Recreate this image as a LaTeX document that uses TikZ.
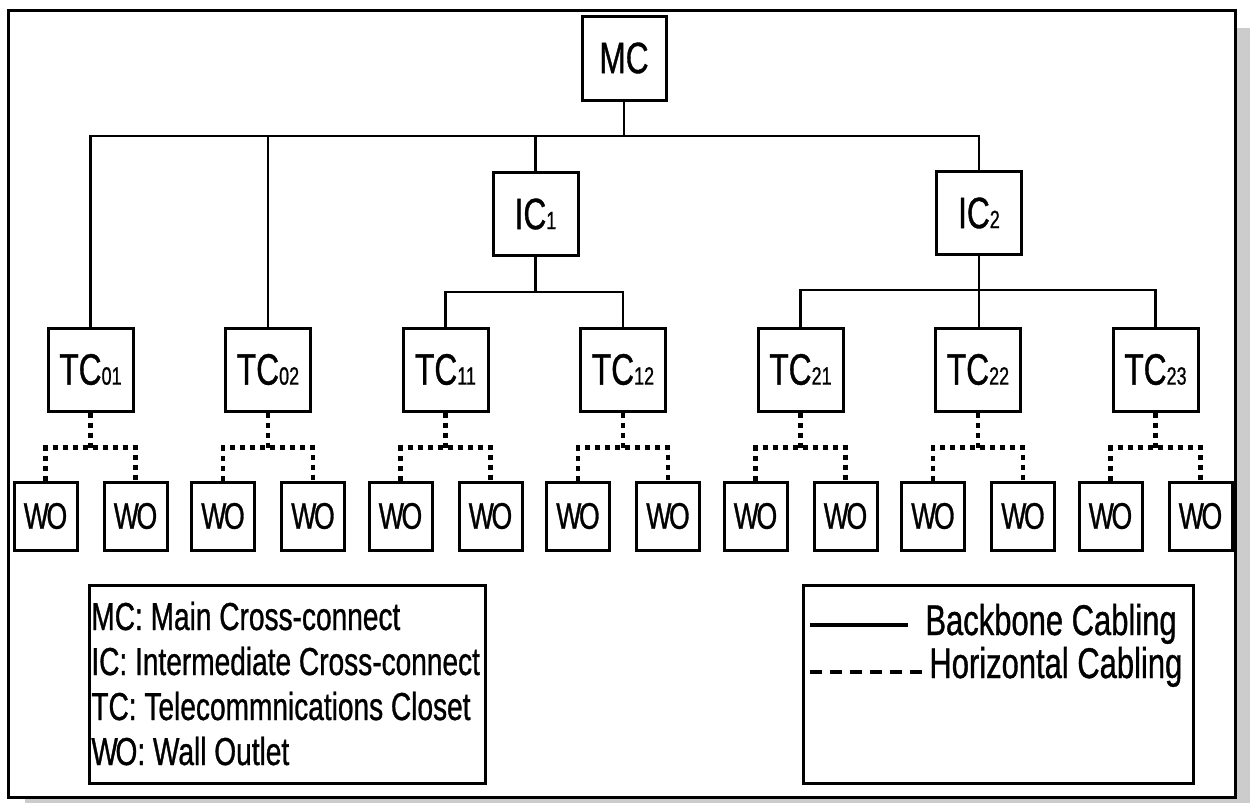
\documentclass[tikz,border=0pt]{standalone}
\usepackage{fontspec}
\setmainfont{Liberation Sans}[FakeStretch=0.72,FakeBold=0.8]
\usetikzlibrary{positioning}
\newcommand{\boxfont}{\fontsize{22}{26}\selectfont}
\newcommand{\wofont}{\fontsize{18.5}{22}\selectfont}
\newcommand{\keyfont}{\fontsize{19.5}{23}\selectfont}
\newcommand{\cablefont}{\fontsize{21.5}{26}\selectfont}
\newcommand{\digits}[1]{{\fontsize{12.5}{14}\selectfont #1}}
\newcommand{\wo}{W\kern-1.2pt O}
\tikzset{
  unitbox/.style={draw,line width=1.5pt,minimum width=42.5pt,minimum height=41.5pt,
    inner sep=0pt,font=\boxfont},
  outlet/.style={draw,line width=1.5pt,minimum width=31.5pt,minimum height=34pt,
    inner sep=0pt,font=\wofont},
  backbone/.style={line width=1.3pt},
  horiz/.style={line width=2.2pt,dash pattern=on 2.5pt off 2.5pt},
  horizkey/.style={line width=2pt,dash pattern=on 6pt off 4pt},
  keybox/.style={draw,line width=1.5pt,minimum width=198pt,minimum height=99pt},
  keytext/.style={anchor=base west,inner sep=0pt,font=\keyfont},
  cabletext/.style={anchor=base west,inner sep=0pt,font=\cablefont}
}

\begin{document}
\begin{tikzpicture}[x=0.5pt,y=-0.5pt,node distance=44.75pt]
  \useasboundingbox (0,0) rectangle (1250,803);
  % shadow and outer frame
  \fill[gray!40] (1237,28) rectangle (1250,803);
  \fill[gray!40] (25,799) rectangle (1250,803);
  \draw[line width=1.5pt] (8,10) rectangle (1235,797);

  \node[unitbox,minimum width=42pt,minimum height=42pt] (MC) at (624,58) {MC};
  \node[unitbox] (IC1) at (535.5,214) {IC\digits{1}};
  \node[unitbox] (IC2) at (979,213) {IC\digits{2}};

  \node[unitbox] (TC01) at (90.5,369.5) {TC\digits{01}};
  \node[unitbox,right=of TC01] (TC02) {TC\digits{02}};
  \node[unitbox,right=of TC02] (TC11) {TC\digits{11}};
  \node[unitbox,right=of TC11] (TC12) {TC\digits{12}};
  \node[unitbox,right=of TC12] (TC21) {TC\digits{21}};
  \node[unitbox,right=of TC21] (TC22) {TC\digits{22}};
  \node[unitbox,right=of TC22] (TC23) {TC\digits{23}};

  % backbone
  \coordinate (bus) at (0,136);
  \coordinate (bus1) at (0,292);
  \coordinate (bus2) at (0,290);
  \draw[backbone] (MC.south) -- (MC |- bus);
  \draw[backbone] (TC01.north) |- (IC2 |- bus) -- (IC2.north);
  \draw[backbone] (TC02.north) -- (TC02 |- bus);
  \draw[backbone] (IC1.north) -- (IC1 |- bus);
  \draw[backbone] (IC1.south) -- (IC1 |- bus1);
  \draw[backbone] (TC11.north) |- (TC12 |- bus1) -- (TC12.north);
  \draw[backbone] (IC2.south) -- (IC2 |- TC22.north);
  \draw[backbone] (TC21.north) |- (TC23 |- bus2) -- (TC23.north);

  % horizontal cabling to outlets
  \foreach \tc in {01,02,11,12,21,22,23}{
    \node[outlet,below=34pt of TC\tc,xshift=-22.5pt] (WO\tc a) {\wo};
    \node[outlet,below=34pt of TC\tc,xshift=22.5pt] (WO\tc b) {\wo};
    \draw[horiz] (TC\tc.south) -- ++(0,35) coordinate (hub\tc);
    \draw[horiz] (WO\tc a.north) |- (hub\tc) -| (WO\tc b.north);
  }

  % key
  \node[keybox] (keyA) at (287,684) {};
  \node[keytext] (keyMC) at (91,630) {MC: Main Cross-connect};
  \node[keytext] (keyIC) at (91,675) {IC: Intermediate Cross-connect};
  \node[keytext] (keyTC) at (91,720) {TC: Telecommnications Closet};
  \node[keytext] (keyWO) at (91,765) {\wo: Wall Outlet};

  \node[keybox,minimum width=195pt] (keyB) at (998,684) {};
  \coordinate (bbA) at (810,625);
  \coordinate (bbB) at (908,625);
  \draw[line width=2pt] (bbA) -- (bbB);
  \node[cabletext] (keyBB) at (925,635) {Backbone Cabling};
  \coordinate (hzA) at (810,672);
  \coordinate (hzB) at (923,672);
  \draw[horizkey] (hzA) -- (hzB);
  \node[cabletext] (keyHZ) at (929,678) {Horizontal Cabling};
\end{tikzpicture}
\end{document}
